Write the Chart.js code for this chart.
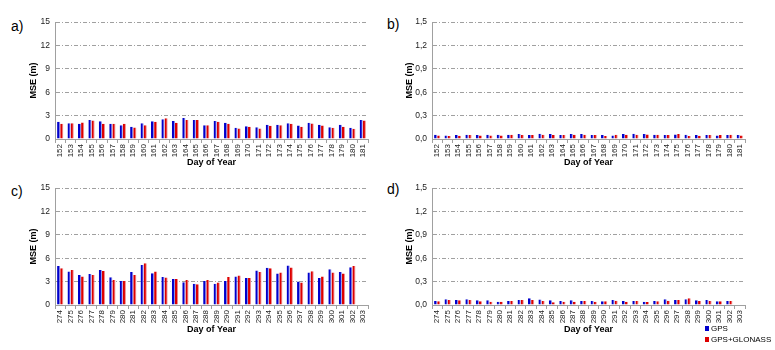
<!DOCTYPE html>
<html lang="en">
<head>
<meta charset="UTF-8">
<title>MSE per Day of Year</title>
<style>
    body { margin: 0; background: #fff; font-family: 'Liberation Sans', Arial, sans-serif; }
    #wrap { position: relative; width: 775px; height: 350px; overflow: hidden; }
    .panel { position: absolute; }
    .tag { position: absolute; font-size: 14px; color: #000; }
    .leg { position: absolute; font-size: 8px; color: #000; line-height: 10px; white-space: nowrap; }
    .leg span { display: inline-block; width: 4px; height: 5px; margin-right: 2px; vertical-align: 0px; }
</style>
</head>
<body>
<div id="wrap">
    <div class="panel" style="left:28px;top:10px;width:346px;height:158px"><canvas id="chA"></canvas></div>
    <div class="panel" style="left:404px;top:10px;width:347px;height:158px"><canvas id="chB"></canvas></div>
    <div class="panel" style="left:28px;top:176px;width:346px;height:159px"><canvas id="chC"></canvas></div>
    <div class="panel" style="left:404px;top:176px;width:347px;height:159px"><canvas id="chD"></canvas></div>
    <div class="tag" style="left:11px;top:18px">a)</div>
    <div class="tag" style="left:387px;top:16px">b)</div>
    <div class="tag" style="left:11px;top:183px">c)</div>
    <div class="tag" style="left:387px;top:181px">d)</div>
    <div class="leg" style="left:705px;top:324px"><span style="background:#0000cc"></span>GPS</div>
    <div class="leg" style="left:705px;top:335px"><span style="background:#dd0000"></span>GPS+GLONASS</div>
</div>

<script src="https://cdn.jsdelivr.net/npm/chart.js"></script>
<script>
    // days 152-181 (panels a, b)
    const daysSummer = ['152','153','154','155','156','157','158','159','160','161','162','163','164','165','166',
                        '167','168','169','170','171','172','173','174','175','176','177','178','179','180','181'];
    const gpsA     = [2.20,2.03,1.94,2.45,2.28,1.94,1.77,1.56,2.03,2.28,2.53,2.32,2.70,2.45,1.77,
                      2.32,2.07,1.44,1.65,1.52,1.82,1.82,2.03,1.73,2.07,1.82,1.52,1.82,1.44,2.45];
    const glonassA = [1.94,2.03,2.10,2.37,1.94,1.94,1.94,1.48,1.77,2.20,2.66,2.07,2.45,2.45,1.77,
                      2.20,1.94,1.35,1.56,1.35,1.69,1.77,1.94,1.56,1.99,1.73,1.44,1.56,1.31,2.37];
    const gpsB     = [0.055,0.046,0.050,0.055,0.050,0.055,0.055,0.055,0.063,0.050,0.068,0.063,0.050,0.063,0.063,
                      0.050,0.050,0.046,0.063,0.068,0.063,0.055,0.050,0.059,0.055,0.050,0.050,0.046,0.050,0.050];
    const glonassB = [0.046,0.038,0.042,0.050,0.046,0.046,0.046,0.055,0.050,0.050,0.055,0.050,0.050,0.055,0.055,
                      0.050,0.038,0.055,0.055,0.055,0.059,0.055,0.050,0.063,0.038,0.042,0.050,0.050,0.055,0.046];

    // days 274-303 (panels c, d)
    const daysAutumn = ['274','275','276','277','278','279','280','281','282','283','284','285','286','287','288',
                        '289','290','291','292','293','294','295','296','297','298','299','300','301','302','303'];
    const gpsC     = [5.01,4.29,3.86,3.99,4.50,3.56,3.09,4.24,5.14,4.07,3.60,3.34,2.91,2.74,3.09,
                      2.74,3.09,3.64,3.47,4.41,4.76,4.03,5.06,3.00,4.16,3.47,4.59,4.24,4.84,null];
    const glonassC = [4.71,4.50,3.64,3.86,4.37,3.21,3.09,3.86,5.36,4.29,3.51,3.34,3.21,2.66,3.21,
                      2.87,3.60,3.77,3.47,4.24,4.71,4.16,4.80,2.87,4.33,3.64,4.16,4.03,5.01,null];
    const gpsD     = [0.051,0.073,0.064,0.073,0.060,0.060,0.043,0.051,0.064,0.086,0.069,0.060,0.051,0.060,0.051,
                      0.051,0.047,0.064,0.051,0.051,0.043,0.051,0.073,0.064,0.073,0.060,0.064,0.047,0.051,null];
    const glonassD = [0.047,0.064,0.060,0.064,0.047,0.043,0.043,0.051,0.064,0.064,0.051,0.034,0.043,0.043,0.051,
                      0.043,0.047,0.056,0.043,0.051,0.039,0.047,0.056,0.064,0.086,0.051,0.051,0.047,0.051,null];

    const yTicksBig = [0, 3, 6, 9, 12, 15];
    const yTicksSmall = [0, 0.3, 0.6, 0.9, 1.2, 1.5];

    const BLUE = '#0000cc';
    const RED = '#dd0000';
    const GRID = '#a0a0a0';

    function makeChart(id, labels, gps, glonass, yTicks, decimals, yWidth, xHeight) {
        const max = yTicks[yTicks.length - 1];
        const step = yTicks[1] - yTicks[0];
        return new Chart(document.getElementById(id), {
            type: 'bar',
            data: {
                labels: labels,
                datasets: [
                    { label: 'GPS', data: gps, backgroundColor: BLUE, borderColor: '#8c8ce6',
                      borderWidth: { right: 1, left: 0, top: 0, bottom: 0 }, borderSkipped: false },
                    { label: 'GPS+GLONASS', data: glonass, backgroundColor: RED, borderColor: '#f09090',
                      borderWidth: { right: 1, left: 0, top: 0, bottom: 0 }, borderSkipped: false }
                ]
            },
            options: {
                responsive: true,
                maintainAspectRatio: false,
                animation: false,
                layout: { padding: { top: 12, right: 6, left: 0, bottom: 0 } },
                datasets: { bar: { categoryPercentage: 0.6, barPercentage: 1.0 } },
                plugins: { legend: { display: false }, tooltip: { enabled: false } },
                scales: {
                    x: {
                        grid: { display: true, drawOnChartArea: false, offset: true, tickLength: 4, color: GRID },
                        border: { display: true, color: GRID, width: 1 },
                        ticks: {
                            minRotation: 90, maxRotation: 90, autoSkip: false, padding: 1,
                            color: '#222', font: { family: 'Liberation Sans', size: 8 }
                        },
                        title: {
                            display: true, text: 'Day of Year', color: '#000', padding: 0,
                            font: { family: 'Liberation Sans', size: 9, weight: 'bold' }
                        },
                        afterFit: s => { s.height = xHeight; }
                    },
                    y: {
                        min: 0, max: max,
                        grid: {
                            color: ctx => ctx.tick && ctx.tick.value === 0 ? 'rgba(0,0,0,0)' : GRID,
                            drawTicks: false
                        },
                        border: { display: true, color: GRID, width: 1, dash: [4, 2, 1, 2] },
                        ticks: {
                            stepSize: step, padding: 5, color: '#222',
                            font: { family: 'Liberation Sans', size: 8.5 },
                            callback: v => v.toFixed(decimals).replace('.', ',')
                        },
                        title: {
                            display: true, text: 'MSE (m)', color: '#000', padding: 0,
                            font: { family: 'Liberation Sans', size: 9, weight: 'bold' }
                        },
                        afterFit: s => { s.width = yWidth; }
                    }
                }
            }
        });
    }

    makeChart('chA', daysSummer, gpsA, glonassA, yTicksBig, 0, 27, 29);
    makeChart('chB', daysSummer, gpsB, glonassB, yTicksSmall, 1, 28, 29);
    makeChart('chC', daysAutumn, gpsC, glonassC, yTicksBig, 0, 27, 30);
    makeChart('chD', daysAutumn, gpsD, glonassD, yTicksSmall, 1, 28, 30);
</script>
</body>
</html>
